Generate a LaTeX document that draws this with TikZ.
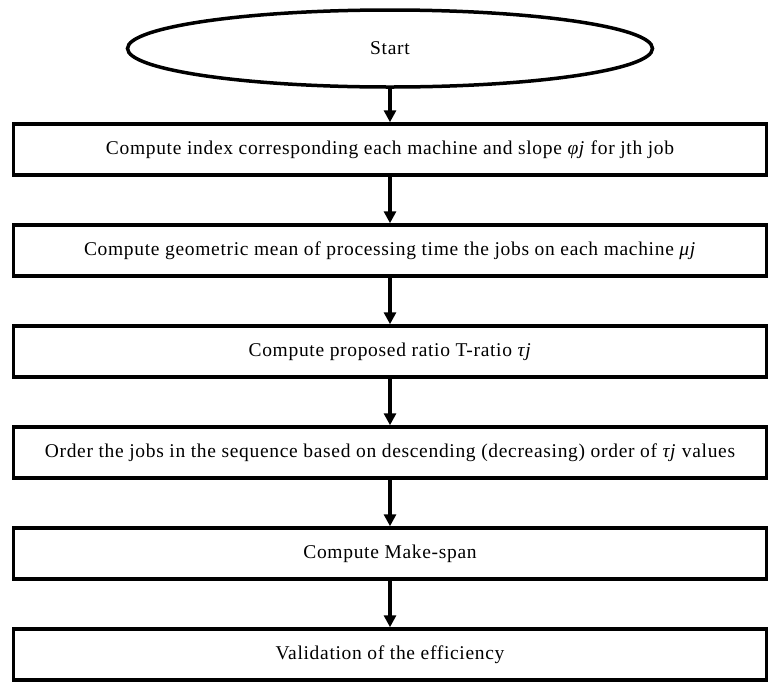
\documentclass[tikz,border=0pt]{standalone}
\usepackage{fontspec}
\setmainfont{Liberation Serif}[LetterSpace=3.5]
\usepackage{tikz}
\usetikzlibrary{arrows.meta,shapes.geometric}

\begin{document}
\begin{tikzpicture}[->,>={Triangle[length=12pt,width=12pt]},line width=3.5pt,
                    node distance=101pt]
	\tikzstyle{every node}=[font=\fontsize{19.5}{22}\selectfont]
	\tikzstyle{stepbox}=[draw,rectangle,minimum width=753pt,minimum height=51pt,inner sep=0pt]
	\tikzstyle{terminal}=[draw,ellipse,minimum width=525pt,minimum height=77pt,inner sep=0pt]

	\useasboundingbox (0,0) rectangle (771pt,-681pt);

	\node[terminal] (S)                 at (390pt,-48.5pt) {Start};
	\node[stepbox]  (I) [below of=S] {Compute index corresponding each machine and slope \textit{φj} for jth job};
	\node[stepbox]  (G) [below of=I] {Compute geometric mean of processing time the jobs on each machine \textit{μj}};
	\node[stepbox]  (T) [below of=G] {Compute proposed ratio T-ratio \textit{τj}};
	\node[stepbox]  (O) [below of=T] {Order the jobs in the sequence based on descending (decreasing) order of \textit{τj} values};
	\node[stepbox]  (M) [below of=O] {Compute Make-span};
	\node[stepbox]  (V) [below of=M] {Validation of the efficiency};

	\path (S) edge (I)
	      (I) edge (G)
	      (G) edge (T)
	      (T) edge (O)
	      (O) edge (M)
	      (M) edge (V);
\end{tikzpicture}
\end{document}
